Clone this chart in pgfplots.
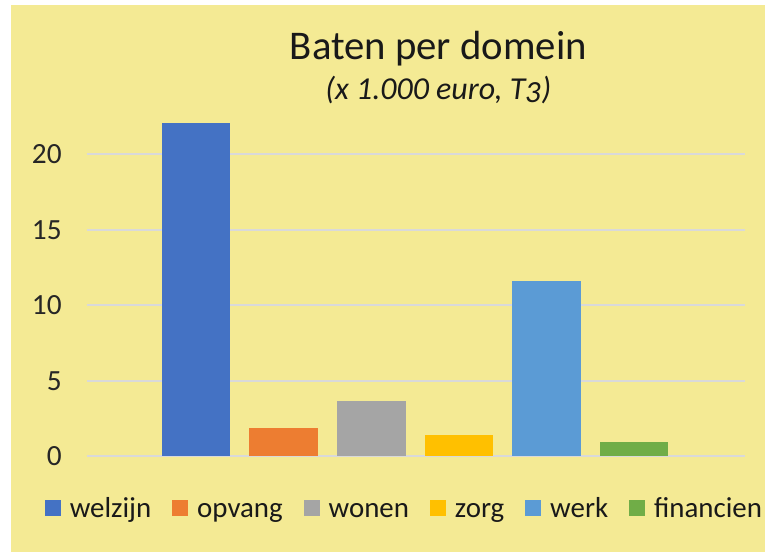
\documentclass[border=0pt]{standalone}
\usepackage{pgfplots}
\pgfplotsset{compat=1.18}
\usepackage{fontspec}
\setmainfont{Carlito}
\definecolor{bg}{HTML}{F4EA94}
\definecolor{cwelzijn}{HTML}{4472C4}
\definecolor{copvang}{HTML}{ED7D31}
\definecolor{cwonen}{HTML}{A5A5A5}
\definecolor{czorg}{HTML}{FFC000}
\definecolor{cwerk}{HTML}{5B9BD5}
\definecolor{cfin}{HTML}{70AD47}
\definecolor{gridc}{HTML}{D9D9D9}
\begin{document}
\begin{tikzpicture}
\fill[white] (0pt,0pt) rectangle (574.5pt,414.75pt);
\fill[bg] (8.25pt,0pt) rectangle (574.5pt,411pt);
\node[anchor=base, font=\fontsize{30.6}{36}\selectfont, text=black!90, inner sep=0pt] at (329.25pt,369.75pt) {Baten per domein};
\node[anchor=base, font=\fontsize{24}{28}\selectfont\itshape, text=black!90, inner sep=0pt] at (329.25pt,339.75pt) {(x 1.000 euro, T{\addfontfeatures{Numbers=OldStyle}3})};
\begin{axis}[
  at={(65.25pt,72pt)}, anchor=south west,
  scale only axis,
  width=494.25pt, height=251.9pt,
  xmin=-1.2456, xmax=6.264,
  ymin=0, ymax=22.2,
  ytick={0,5,10,15,20},
  xtick=\empty,
  axis line style={draw=none},
  major tick length=0pt,
  ymajorgrids,
  grid style={gridc, line width=1.4pt},
  /pgf/number format/assume math mode=true,
  yticklabel style={font=\fontsize{22}{26}\selectfont, text=black!85, inner sep=0pt, xshift=-18.75pt},
  ybar, bar width=51.4pt, bar shift=0pt,
  clip=false,
  legend columns=6,
  legend style={at={(0.481,0)}, anchor=center, yshift=-41.5pt, draw=none, fill=none,
    font=\fontsize{21.7}{26}\selectfont, text=black!90,
    nodes={inner sep=0pt, text height=11pt, text depth=4.5pt},
    /tikz/every odd column/.append style={column sep=6.75pt},
    /tikz/every even column/.append style={column sep=15.75pt}},
  legend image code/.code={\fill[#1] (0pt,-2pt) rectangle (12pt,10pt);},
]
\addplot[fill=cwelzijn, draw=none] coordinates {(0,22.05)};
\addplot[fill=copvang, draw=none] coordinates {(1,1.90)};
\addplot[fill=cwonen, draw=none] coordinates {(2,3.68)};
\addplot[fill=czorg, draw=none] coordinates {(3,1.43)};
\addplot[fill=cwerk, draw=none] coordinates {(4,11.61)};
\addplot[fill=cfin, draw=none] coordinates {(5,0.97)};
\legend{welzijn, opvang, wonen, zorg, werk, financien}
\end{axis}
\end{tikzpicture}
\end{document}
